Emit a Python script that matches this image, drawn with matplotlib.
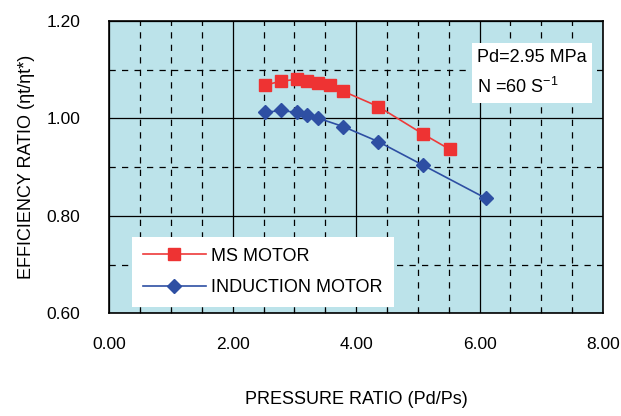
import matplotlib
matplotlib.use("Agg")
import matplotlib.pyplot as plt
from matplotlib.ticker import MultipleLocator

plt.rcParams['font.family'] = ['Liberation Sans', 'DejaVu Sans']
plt.rcParams['mathtext.default'] = 'regular'

# pressure ratio / efficiency ratio
ms_x = [2.52, 2.78, 3.04, 3.20, 3.39, 3.57, 3.78, 4.36, 5.08, 5.52]
ms_y = [1.068, 1.076, 1.080, 1.076, 1.072, 1.068, 1.056, 1.024, 0.968, 0.936]

ind_x = [2.52, 2.78, 3.04, 3.20, 3.39, 3.79, 4.36, 5.08, 6.10]
ind_y = [1.012, 1.016, 1.012, 1.007, 1.000, 0.983, 0.952, 0.904, 0.836]

x_ticks = [0, 2, 4, 6, 8]
y_ticks = [0.6, 0.8, 1.0, 1.2]

fig = plt.figure(figsize=(6.21, 4.16), dpi=100)
ax = fig.add_axes([0.176, 0.247, 0.795, 0.703])
ax.set_facecolor('#bce3ea')

ax.plot(ms_x, ms_y, color='#ee3a3a', lw=1.2, marker='s', ms=9,
        mfc='#ee3333', mec='#ee3333', label='MS MOTOR', zorder=3)
ax.plot(ind_x, ind_y, color='#2e4fa3', lw=1.2, marker='D', ms=7.5,
        mfc='#2e4fa3', mec='#2e4fa3', label='INDUCTION MOTOR', zorder=3)

ax.set_xlim(0, 8)
ax.set_ylim(0.6, 1.2)
ax.set_xticks(x_ticks)
ax.set_yticks(y_ticks)
ax.set_xticklabels(['%.2f' % v for v in x_ticks])
ax.set_yticklabels(['%.2f' % v for v in y_ticks])
ax.xaxis.set_minor_locator(MultipleLocator(0.5))
ax.yaxis.set_minor_locator(MultipleLocator(0.1))

ax.grid(which='major', color='black', lw=0.9, ls='-')
ax.grid(which='minor', color='black', lw=0.9, ls=(0, (5, 5)))
ax.set_axisbelow(True)

ax.tick_params(which='major', length=0, labelsize=12.5)
ax.tick_params(axis='x', which='major', pad=17)
ax.tick_params(axis='y', which='major', pad=21)
ax.tick_params(which='minor', direction='in', length=3, width=0.8)
ax.tick_params(axis='y', which='minor', length=0)
for s in ax.spines.values():
    s.set_linewidth(1.2)

ax.set_xlabel('PRESSURE RATIO (Pd/Ps)', fontsize=13, labelpad=28)
ax.set_ylabel('EFFICIENCY RATIO (ηt/ηt*)', fontsize=13, labelpad=8)

ax.text(0.745, 0.905, 'Pd=2.95 MPa\nN =60 S$^{-1}$', transform=ax.transAxes,
        fontsize=13, va='top', ha='left', linespacing=1.7,
        bbox=dict(facecolor='white', edgecolor='none', pad=4))

leg = ax.legend(loc='lower left', bbox_to_anchor=(0.046, 0.022), borderaxespad=0,
                fontsize=13, frameon=True, fancybox=False, framealpha=1,
                handlelength=3.5, handletextpad=0.3, labelspacing=0.8,
                borderpad=0.6)
leg.get_frame().set_edgecolor('none')

fig.savefig('out.png', dpi=100)
